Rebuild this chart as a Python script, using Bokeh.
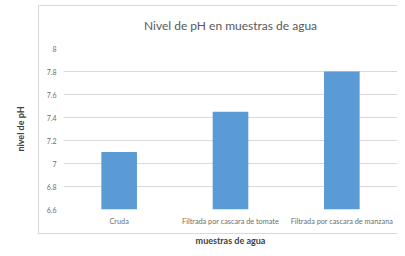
from bokeh.plotting import figure
from bokeh.models import Range1d, FixedTicker, InlineStyleSheet
from bokeh.embed import file_html
from bokeh.resources import INLINE

categories = ["Cruda", "Filtrada por cascara de tomate", "Filtrada por cascara de manzana"]
ph_values = [7.1, 7.45, 7.8]
y_ticks = [6.6, 6.8, 7.0, 7.2, 7.4, 7.6, 7.8, 8.0]
y_tick_labels = {6.6: "6.6", 6.8: "6.8", 7.0: "7", 7.2: "7.2", 7.4: "7.4", 7.6: "7.6", 7.8: "7.8", 8.0: "8"}

FONT = "Lato"

box_css = InlineStyleSheet(css="""
:host::after {
  content: '';
  position: absolute;
  left: 38px; top: 5px; right: 0px; bottom: 14px;
  border: 1px solid #d9d9d9;
  border-right: none;
  pointer-events: none;
}
""")

p = figure(x_range=categories, y_range=Range1d(6.6, 8.0), width=397, height=248,
           output_backend="svg", toolbar_location=None,
           min_border_left=63, min_border_right=0, min_border_top=46, min_border_bottom=38,
           title="Nivel de pH en muestras de agua", stylesheets=[box_css])

p.vbar(x=categories, top=ph_values, bottom=6.6, width=0.32, fill_color="#5b9bd5", line_color=None)

p.title.align = "center"
p.title.text_font = FONT
p.title.text_font_size = "12px"
p.title.text_font_style = "normal"
p.title.text_color = "#595959"
p.title.standoff = 31
p.title.offset = -5

p.outline_line_color = None
p.background_fill_color = "white"
p.border_fill_color = "white"

p.xgrid.grid_line_color = None
p.ygrid.grid_line_color = "#d9d9d9"
p.ygrid.grid_line_width = 1

p.yaxis.ticker = FixedTicker(ticks=y_ticks)
p.yaxis.major_label_overrides = y_tick_labels
for ax in (p.xaxis, p.yaxis):
    ax.axis_line_color = None
    ax.major_tick_line_color = None
    ax.minor_tick_line_color = None
    ax.major_tick_out = 0
    ax.major_tick_in = 0
    ax.minor_tick_out = 0
    ax.minor_tick_in = 0
    ax.major_label_text_font = FONT
    ax.major_label_text_font_size = "7px"
    ax.major_label_text_color = "#6e6e6e"
    ax.axis_label_text_font = FONT
    ax.axis_label_text_font_size = "9px"
    ax.axis_label_text_font_style = "bold"
    ax.axis_label_text_color = "#404040"

p.xaxis.major_label_text_font_size = "7.3px"
p.yaxis.axis_label = "nivel de pH"
p.xaxis.axis_label = "muestras de agua"
p.yaxis.major_label_standoff = 7
p.xaxis.major_label_standoff = 7
p.yaxis.axis_label_standoff = 18
p.xaxis.axis_label_standoff = 6

open("out.html", "w").write(file_html(p, INLINE))
